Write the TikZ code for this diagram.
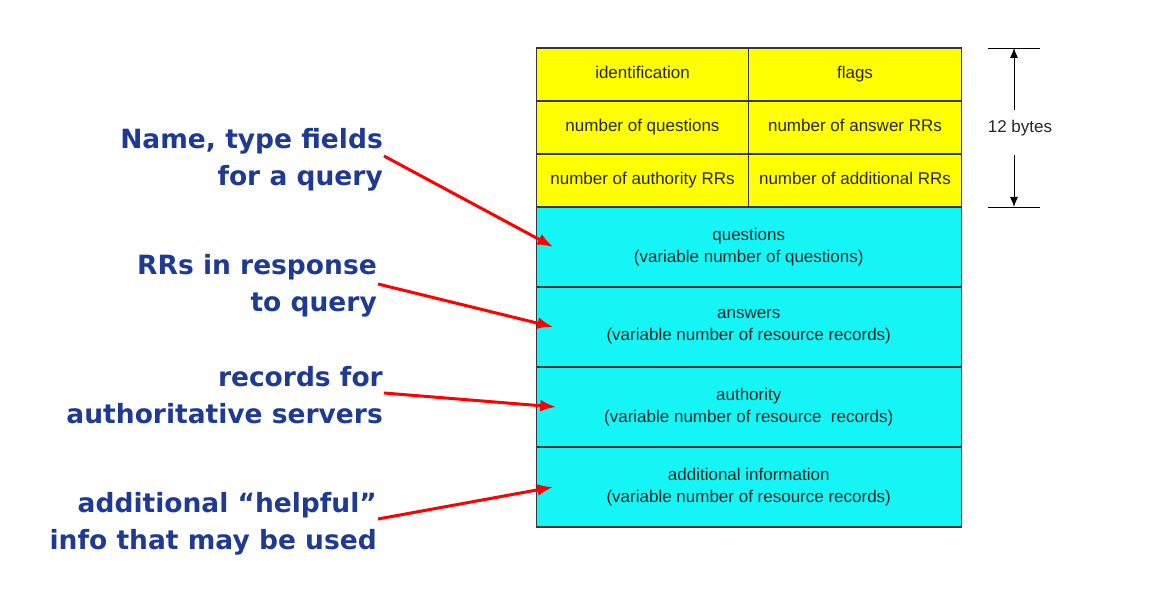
\documentclass[tikz,border=0pt]{standalone}
\usepackage{fontspec}
\usepackage{xcolor}
\usepackage{tikz}
\usetikzlibrary{arrows.meta, positioning}

\newfontfamily\tabfont{Liberation Sans}
\newfontfamily\lblfont{DejaVu Sans}

\definecolor{hdryellow}{RGB}{255,255,0}
\definecolor{seccyan}{RGB}{22,245,245}
\definecolor{lblblue}{RGB}{31,58,147}
\definecolor{ptrred}{RGB}{255,0,0}
\definecolor{edgegray}{RGB}{55,55,55}

\tikzset{
  hdrcell/.style={draw=edgegray, line width=1.2pt, fill=hdryellow, inner sep=0pt,
    outer sep=0pt, minimum width=212.5pt, minimum height=53pt, text=black!85,
    text height=12.5pt, text depth=3.5pt,
    font={\tabfont\fontsize{17}{22}\selectfont}},
  seccell/.style={draw=edgegray, line width=1.2pt, fill=seccyan, inner sep=0pt,
    outer sep=0pt, minimum width=425pt, minimum height=80pt, align=center,
    text=black!85, font={\tabfont\fontsize{17}{22}\selectfont}},
  lbl/.style={anchor=east, align=right, inner sep=1pt, text=lblblue,
    font={\lblfont\bfseries\fontsize{26.5}{37}\selectfont}},
  ptr/.style={ptrred, line width=3pt, -{Latex[length=16pt,width=12pt]}},
  dimline/.style={black, line width=0.9pt},
}

\begin{document}
\begin{tikzpicture}[x=1pt, y=-1pt]
    \useasboundingbox (0,0) rectangle (1160,601);

    % Phần tiêu đề 12 byte
    \node[hdrcell] (ident) at (642.5,74.5) {identification};
    \node[hdrcell, right=0pt of ident] (flags) {flags};
    \node[hdrcell, below=0pt of ident] (nques) {number of questions};
    \node[hdrcell, right=0pt of nques] (nans) {number of answer RRs};
    \node[hdrcell, below=0pt of nques] (nauth) {number of authority RRs};
    \node[hdrcell, right=0pt of nauth] (naddl) {number of additional RRs};

    % Các phần có độ dài thay đổi
    \node[seccell, anchor=north west] (ques) at (nauth.south west)
        {questions\\(variable number of questions)};
    \node[seccell, below=0pt of ques] (answ)
        {answers\\(variable number of resource records)};
    \node[seccell, below=0pt of answ] (auth)
        {authority\\(variable number of resource\ \ records)};
    \node[seccell, below=0pt of auth] (addl)
        {additional information\\(variable number of resource records)};

    % Kích thước 12 bytes
    \coordinate (dtop) at (1014,48);
    \coordinate (dbot) at (1014,207);
    \coordinate (dup) at (1014,110);
    \coordinate (ddown) at (1014,155);
    \draw[dimline] (988,48) -- (1040,48);
    \draw[dimline] (988,207) -- (1040,207);
    \node[font={\tabfont\fontsize{17}{22}\selectfont}, text=black!85] (bytes) at (1020,128) {12 bytes};
    \draw[dimline, -{Latex[length=10pt,width=8pt]}] (dup) -- (dtop);
    \draw[dimline, -{Latex[length=10pt,width=8pt]}] (ddown) -- (dbot);

    % Chú thích bên trái
    \node[lbl] (lques) at (384,160) {Name, type fields\\for a query};
    \node[lbl] (lansw) at (378,286) {RRs in response\\to query};
    \node[lbl] (lauth) at (384,395) {records for\\authoritative servers};
    \node[lbl] (laddl) at (378,524) {additional “helpful”\\info that may be used};

    % Mũi tên đỏ
    \draw[ptr] ([yshift=4pt]lques.east) -- ([xshift=17pt]ques.west);
    \draw[ptr] ([yshift=2pt]lansw.east) -- ([xshift=17pt]answ.west);
    \draw[ptr] ([yshift=2pt]lauth.east) -- ([xshift=20pt]auth.west);
    \draw[ptr] ([yshift=5pt]laddl.east) -- ([xshift=17pt]addl.west);
\end{tikzpicture}
\end{document}
